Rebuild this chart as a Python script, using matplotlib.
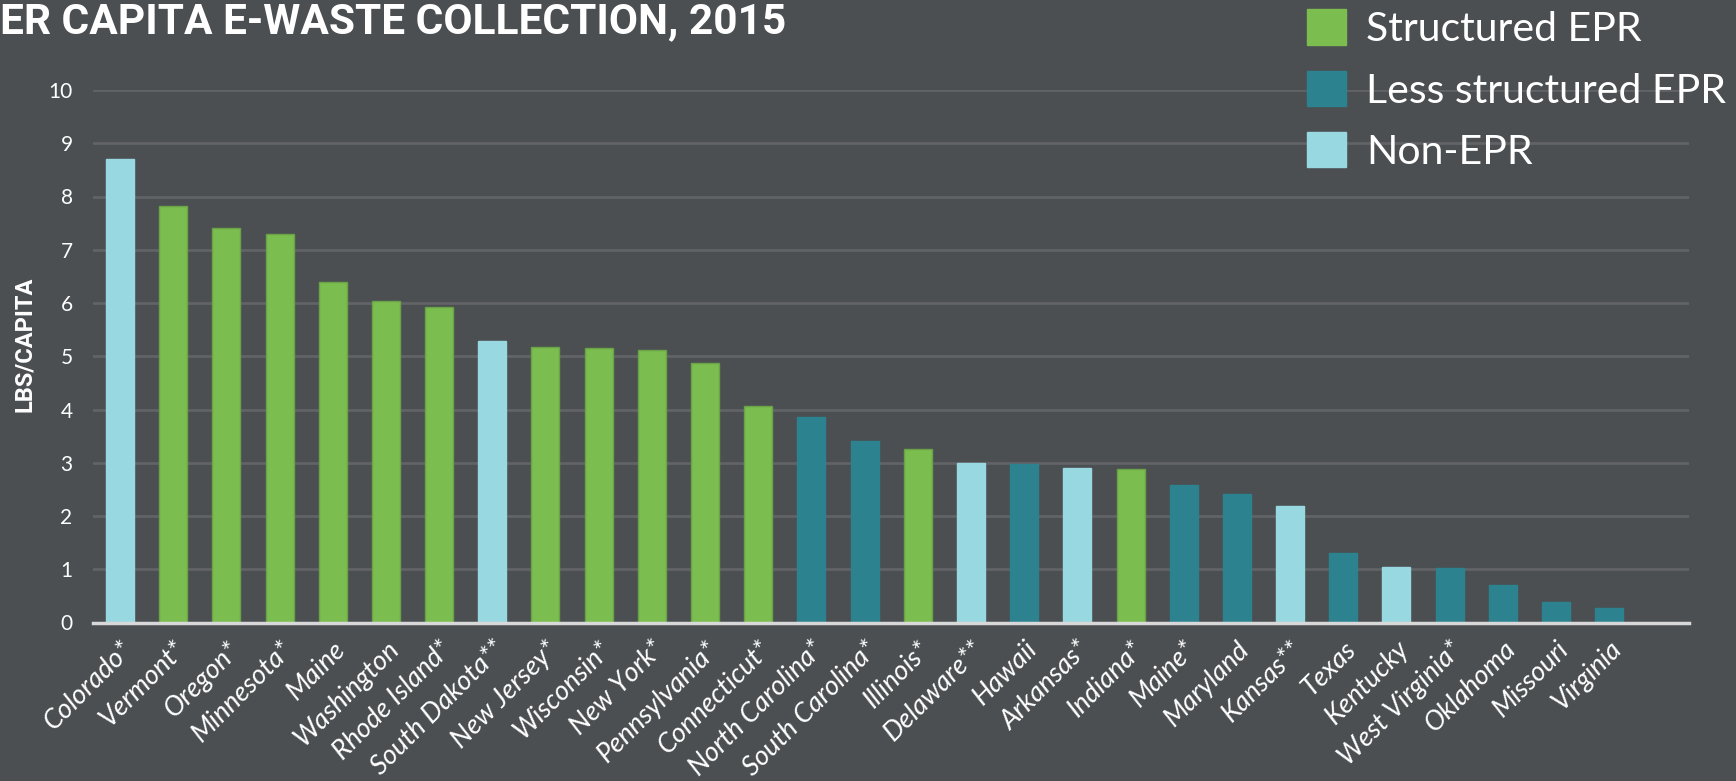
import matplotlib
matplotlib.use("Agg")
import matplotlib.pyplot as plt
from matplotlib.patches import Patch

states = ["Colorado*", "Vermont*", "Oregon*", "Minnesota*", "Maine", "Washington",
          "Rhode Island*", "South Dakota**", "New Jersey*", "Wisconsin*", "New York*",
          "Pennsylvania*", "Connecticut*", "North Carolina*", "South Carolina*",
          "Illinois*", "Delaware**", "Hawaii", "Arkansas*", "Indiana*", "Maine*",
          "Maryland", "Kansas**", "Texas", "Kentucky", "West Virginia*", "Oklahoma",
          "Missouri", "Virginia"]
values = [8.71, 7.82, 7.41, 7.29, 6.39, 6.03, 5.93, 5.28, 5.17, 5.16, 5.11, 4.87,
          4.06, 3.85, 3.40, 3.26, 3.00, 2.97, 2.91, 2.89, 2.59, 2.42, 2.18, 1.30,
          1.05, 1.02, 0.70, 0.38, 0.27]
program = ["Non-EPR", "Structured EPR", "Structured EPR", "Structured EPR",
           "Structured EPR", "Structured EPR", "Structured EPR", "Non-EPR",
           "Structured EPR", "Structured EPR", "Structured EPR", "Structured EPR",
           "Structured EPR", "Less structured EPR", "Less structured EPR",
           "Structured EPR", "Non-EPR", "Less structured EPR", "Non-EPR",
           "Structured EPR", "Less structured EPR", "Less structured EPR", "Non-EPR",
           "Less structured EPR", "Non-EPR", "Less structured EPR",
           "Less structured EPR", "Less structured EPR", "Less structured EPR"]
legend_order = ["Structured EPR", "Less structured EPR", "Non-EPR"]
yticks = [0, 1, 2, 3, 4, 5, 6, 7, 8, 9, 10]
title = "ER CAPITA E-WASTE COLLECTION, 2015"
ylabel = "LBS/CAPITA"

colors = {"Structured EPR": "#7bbd4f", "Less structured EPR": "#2c838f",
          "Non-EPR": "#98d9e1"}
edges = {"Structured EPR": "#6aa347", "Less structured EPR": "#2c838f",
         "Non-EPR": "#98d9e1"}
BG = "#4b4f52"

plt.rcParams['font.family'] = ['Lato', 'DejaVu Sans']

fig = plt.figure(figsize=(17.36, 7.81), dpi=100, facecolor=BG)
ax = fig.add_axes([93.4 / 1736, 1 - 622.5 / 781, (1689 - 93.4) / 1736, (622.5 - 90) / 781])
ax.set_facecolor(BG)

x = list(range(len(states)))
ax.bar(x, values, width=0.526, color=[colors[p] for p in program],
       edgecolor=[edges[p] for p in program], linewidth=1, zorder=3)

ax.set_xlim(-0.5, len(states) + 0.5)
ax.set_ylim(0, 10)
ax.set_yticks(yticks)
ax.set_yticklabels([str(t) for t in yticks])
ax.yaxis.grid(True, color="#616366", linewidth=2, zorder=0)
ax.set_axisbelow(True)
for s in ["left", "right", "top"]:
    ax.spines[s].set_visible(False)
ax.spines["bottom"].set_color("#d8d8d8")
ax.spines["bottom"].set_linewidth(2.5)
ax.spines["bottom"].set_zorder(4)

ax.tick_params(axis="y", length=0, pad=15, labelsize=15, labelcolor="white")
ax.tick_params(axis="x", length=0, pad=10)
ax.set_xticks(x)
ax.set_xticklabels(states, rotation=45, ha="right", va="top", rotation_mode="anchor",
                   fontsize=19.5, color="white", style="italic")

fig.text(25 / 1736, 1 - 344 / 781, ylabel, rotation=90, ha="center", va="center",
         fontsize=17, fontweight="bold", color="white",
         family=["Roboto", "DejaVu Sans"])

fig.text(0.0, 1 - 33 / 781, title, ha="left", va="baseline", fontsize=30.5,
         fontweight="bold", color="white",
         family=["Roboto", "DejaVu Sans"])

handles = [Patch(facecolor=colors[k], edgecolor=colors[k]) for k in legend_order]
leg = fig.legend(handles, legend_order, loc="upper left",
                 bbox_to_anchor=(1307 / 1736, 1 - 9.5 / 781), frameon=False,
                 fontsize=29.5, handlelength=0.95, handleheight=0.95,
                 handletextpad=0.5, labelspacing=0.55, borderpad=0, borderaxespad=0)
for t in leg.get_texts():
    t.set_color("white")

fig.savefig("out.png", dpi=100, facecolor=BG)
